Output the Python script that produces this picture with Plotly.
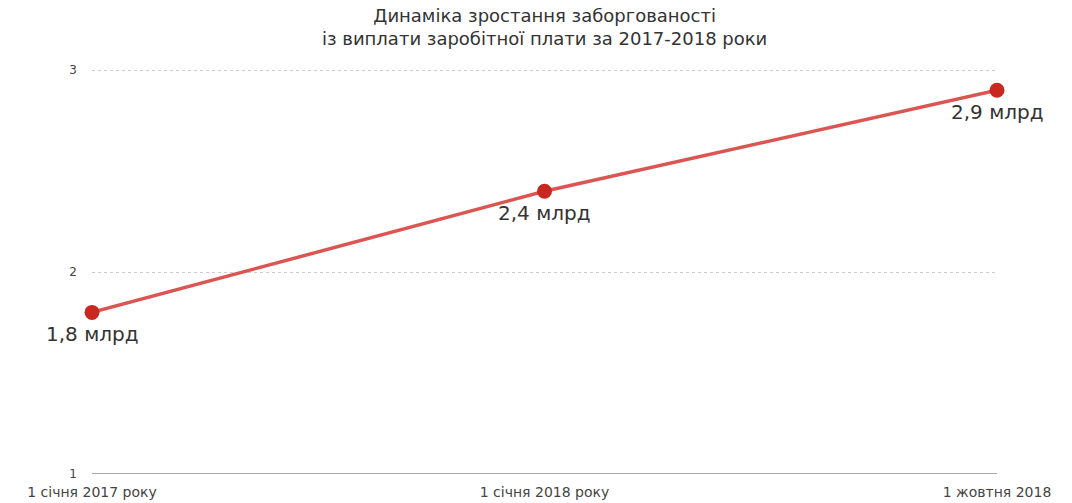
import plotly.graph_objects as go

categories = ["1 січня 2017 року", "1 січня 2018 року", "1 жовтня 2018"]
values = [1.8, 2.4, 2.9]
labels = ["1,8 млрд", "2,4 млрд", "2,9 млрд"]
y_ticks = [1, 2, 3]

title_text = "Динаміка зростання заборгованості<br>із виплати заробітної плати за 2017-2018 роки"
FONT = "DejaVu Sans, Verdana, Arial"

fig = go.Figure()
fig.add_trace(go.Scatter(
    x=categories, y=values,
    mode="lines+markers",
    line=dict(color="#db5652", width=3.5),
    marker=dict(color="#c8281f", size=15),
    cliponaxis=False,
    hoverinfo="skip",
))

for c, v, t in zip(categories, values, labels):
    fig.add_annotation(x=c, y=v, text=t, showarrow=False, yshift=-22,
                       font=dict(size=20, color="#333333", family=FONT))

fig.add_annotation(xref="paper", yref="paper", x=0.5, y=1, xanchor="center", yanchor="bottom",
                   yshift=15, text=title_text, showarrow=False,
                   font=dict(size=18, color="#333333", family=FONT))

fig.update_layout(
    width=1072, height=503,
    paper_bgcolor="white", plot_bgcolor="white",
    margin=dict(l=92, r=75, t=66, b=29, autoexpand=False),
    showlegend=False,
    font=dict(family=FONT, color="#444444"),
)
fig.update_xaxes(type="category", range=[0, 2], showgrid=False, zeroline=False,
                 showline=False, ticks="", ticklabelstandoff=8, automargin=False,
                 tickfont=dict(size=14, color="#444444"))
fig.update_yaxes(range=[1, 3.02], tickvals=y_ticks, ticktext=[str(v) for v in y_ticks],
                 showgrid=True, gridcolor="#cccccc", griddash="dot", gridwidth=1,
                 zeroline=False, showline=False, ticks="", ticklabelstandoff=14,
                 automargin=False,
                 tickfont=dict(size=12, color="#444444"))
fig.add_shape(type="line", xref="paper", yref="y", x0=0, x1=1, y0=1, y1=1,
              line=dict(color="#888888", width=1.5))

fig.write_html("out.html", config={"displayModeBar": False},
               post_script="document.body.style.margin='0';")
